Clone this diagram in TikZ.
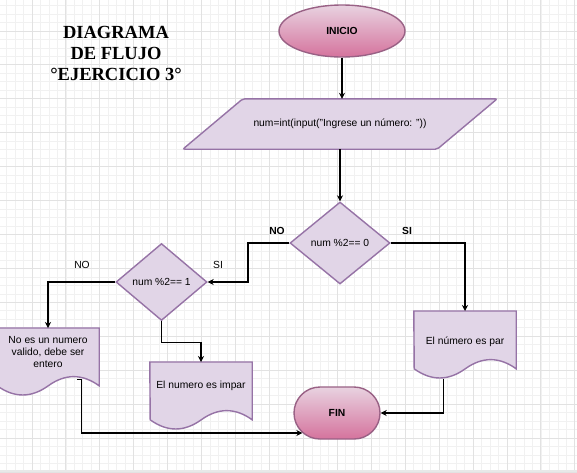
\documentclass[tikz,border=0pt]{standalone}
\usepackage{fontspec}
\setmainfont{Liberation Sans}
\newfontfamily\titlefont{Liberation Serif}
\usetikzlibrary{shapes.geometric,shapes.misc,arrows.meta,calc}
\pgfdeclarelayer{gridlayer}
\pgfdeclarelayer{shapelayer}
\pgfsetlayers{gridlayer,shapelayer,main}
\definecolor{lavfill}{HTML}{E1D5E7}
\definecolor{lavline}{HTML}{9673A6}
\definecolor{pinktop}{HTML}{E8D2E0}
\definecolor{pinkbot}{HTML}{D5739D}
\definecolor{pinkline}{HTML}{996185}
\definecolor{gridmajor}{HTML}{E2E2E2}
\definecolor{gridminor}{HTML}{F1F1F1}
\newcommand\DocShape[1]{%
  \draw[docsty] (#1.north west) -- (#1.north east) -- ++(0,57.8)
    .. controls +(-17,-12.24) and +(17,-12.24) .. ++(-51,0)
    .. controls +(-17,12.24) and +(17,12.24) .. ++(-51,0) -- cycle;}
\begin{document}
\begin{tikzpicture}[x=1pt,y=-1pt,
  every node/.style={font=\fontsize{10.3}{12}\selectfont},
  term/.style={draw=pinkline, line width=1.4pt, top color=pinktop, bottom color=pinkbot,
    font=\bfseries\fontsize{10.3}{12}\selectfont, inner sep=0pt},
  dec/.style={diamond, draw=lavline, fill=lavfill, line width=1.4pt, inner sep=0pt},
  docnode/.style={rectangle, minimum width=102pt, minimum height=68pt, inner sep=0pt, anchor=north},
  docsty/.style={draw=lavline, fill=lavfill, line width=1.4pt},
  ttl/.style={anchor=base, font=\titlefont\bfseries\fontsize{18.5}{21}\selectfont},
  lbl/.style={font=\fontsize{10.3}{12}\selectfont},
  lblb/.style={font=\bfseries\fontsize{10.3}{12}\selectfont},
  arr/.style={draw=black, line width=1.1pt, -{Stealth[length=6pt,width=6pt]}},
  conn/.style={draw=black, line width=1.1pt}]
\useasboundingbox (0,0) rectangle (577,472);
\clip (0,0) rectangle (577,472);
% grid
\begin{pgfonlayer}{gridlayer}
  \fill[white] (0,0) rectangle (577,472);
  \foreach \i in {0,...,68} \draw[gridminor, line width=0.8pt] ({6.55+\i*8.4825},0) -- ({6.55+\i*8.4825},472);
  \foreach \j in {0,...,56} \draw[gridminor, line width=0.8pt] (0,{5.5+\j*8.4825}) -- (577,{5.5+\j*8.4825});
  \foreach \i in {0,...,17} \draw[gridmajor, line width=1pt] ({-1.93+\i*33.93},0) -- ({-1.93+\i*33.93},472);
  \foreach \j in {0,...,14} \draw[gridmajor, line width=1pt] (0,{-2.93+\j*33.93}) -- (577,{-2.93+\j*33.93});
  \fill[gray!18] (0,470) rectangle (577,472);
\end{pgfonlayer}
% title
\node[ttl] (t1) at (116,38) {DIAGRAMA};
\node[ttl] (t2) at (116,59) {DE FLUJO};
\node[ttl] (t3) at (116,80) {°EJERCICIO 3°};
% nodes
\node[term, ellipse, minimum width=126pt, minimum height=52pt] (inicio) at (342,31) {INICIO};
\node[minimum width=254pt, minimum height=50pt, inner sep=0pt] (input) at (340,124) {num=int(input("Ingrese un número: "))};
\node[dec, minimum width=100pt, minimum height=82pt] (d1) at (340,243) {num \%2== 0};
\node[dec, minimum width=91pt, minimum height=77pt] (d2) at (161.5,282) {num \%2== 1};
\node[docnode] (doc1) at (48,328) {};
\node[align=center] (doc1t) at (48,352) {No es un numero\\valido, debe ser\\entero};
\node[docnode] (doc2) at (201,362) {};
\node (doc2t) at (201,386) {El numero es impar};
\node[docnode] (doc3) at (465,311) {};
\node (doc3t) at (465,342) {El número es par};
\node[term, rounded rectangle, minimum width=86pt, minimum height=52pt] (fin) at (337,413) {FIN};
% shapes on background layer
\begin{pgfonlayer}{shapelayer}
  \draw[docsty, rounded corners=2pt] ($(input.north west)+(30,0)$) -- ($(input.north east)+(30,0)$)
    -- ($(input.south east)+(-30,0)$) -- ($(input.south west)+(-30,0)$) -- cycle;
  \DocShape{doc1}
  \DocShape{doc2}
  \DocShape{doc3}
\end{pgfonlayer}
% labels
\node[lblb] (no1) at (277,231) {NO};
\node[lblb] (si1) at (407,231) {SI};
\node[lbl] (no2) at (82,265) {NO};
\node[lbl] (si2) at (218,265) {SI};
% connectors
\coordinate (j1) at (248,282);
\coordinate (x3) at ($(doc3.south west)+(30,0)$);
\coordinate (x1) at ($(doc1.south west)+(85,-17)$);
\draw[arr] (inicio.south) -- (inicio.south |- input.north);
\draw[arr] (input.south) -- (d1.north);
\draw[arr] (d1.west) -| (j1) -- (d2.east);
\draw[arr] (d2.west) -| (doc1.north);
\draw[arr] (d2.south) -- ++(0,21) -| (doc2.north);
\draw[arr] (d1.east) -| (doc3.north);
\draw[arr] (x3) |- (fin.east);
\draw[arr] ($(x1)+(-5,0)$) -- (x1) |- (fin.210);
\end{tikzpicture}
\end{document}
